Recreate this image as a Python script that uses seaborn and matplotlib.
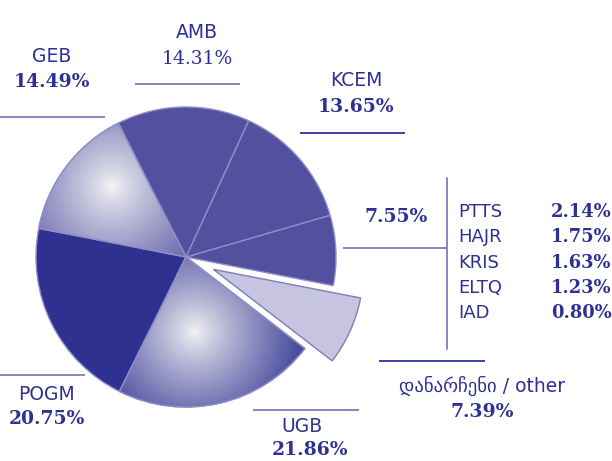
import numpy as np
import matplotlib.pyplot as plt
import seaborn as sns
from matplotlib.colors import to_rgb
from matplotlib.patches import Wedge

# slice data (counter-clockwise from the right)
slice_names = ["group", "KCEM", "AMB", "GEB", "POGM", "UGB", "other"]
slice_shares = [7.55, 13.65, 14.31, 14.49, 20.75, 21.86, 7.39]
slice_colors = ["#52509F", "#52509F", "#52509F", "#5C5AA8", "#2E3190", "#2E3190", "#C6C4E1"]
explode = [0, 0, 0, 0, 0, 0, 0.2]

# breakdown of the 7.55% group
small_names = ["PTTS", "HAJR", "KRIS", "ELTQ", "IAD"]
small_shares = [2.14, 1.75, 1.63, 1.23, 0.80]

other_label = "დანარჩენი / other"

sns.set_theme(style="white")
plt.rcParams['font.family'] = ['DejaVu Sans']

navy = "#2E3192"
line_col = "#7E7DBA"
W, H = 612, 461

fig = plt.figure(figsize=(6.12, 4.61), dpi=100)
ax = fig.add_axes([0, 0, 1, 1])

cx, cy, r = 186, H - 257, 150
wedges, _ = ax.pie(slice_shares, colors=slice_colors, explode=[e * r for e in explode],
                   startangle=-11, center=(cx, cy), radius=r, frame=True,
                   wedgeprops=dict(edgecolor="#8F8EC6", linewidth=1))
wedges[-1].set_edgecolor("#7F7DB8")
ax.set_xlim(0, W)
ax.set_ylim(0, H)
ax.axis("off")

# radial highlight on GEB and UGB
xx, yy = np.meshgrid(np.arange(W) + 0.5, np.arange(H) + 0.5)
def shade(wedge, hx, hy, spread, base):
    d = np.sqrt((xx - hx) ** 2 + (yy - hy) ** 2) / spread
    t = np.clip(d, 0, 1) ** 0.85
    img = np.ones((H, W, 3))
    b = np.array(to_rgb(base))
    for k in range(3):
        img[..., k] = (1 - t) * 0.96 + t * b[k]
    im = ax.imshow(img, extent=(0, W, 0, H), origin="lower", zorder=wedge.get_zorder() + 0.1)
    im.set_clip_path(wedge)
    e = Wedge(wedge.center, wedge.r, wedge.theta1, wedge.theta2,
              facecolor="none", edgecolor="#8F8EC6", linewidth=1,
              zorder=wedge.get_zorder() + 0.2)
    ax.add_patch(e)

shade(wedges[3], 112, H - 187, 120, "#5654A3")
shade(wedges[5], 195, H - 332, 125, "#2E3190")
ax.set_xlim(0, W)
ax.set_ylim(0, H)

def hline(x0, x1, y, col=line_col):
    ax.plot([x0, x1], [H - y, H - y], color=col, lw=1.3, solid_capstyle="butt")

def txt(x, y, s, serif=False, bold=False, ha="center", size=13.5):
    fam = ["DejaVu Serif"] if serif else ["DejaVu Sans"]
    ax.text(x, H - y, s, ha=ha, va="center", color=navy, fontsize=size,
            family=fam, fontweight="bold" if bold else "normal")

pct = dict(zip(slice_names, slice_shares))

# GEB
txt(52, 57, "GEB")
txt(52, 82, f"{pct['GEB']:.2f}%", serif=True, bold=True)
hline(0, 105, 117)
# AMB
txt(197, 33, "AMB")
txt(197, 59, f"{pct['AMB']:.2f}%", serif=True)
hline(135, 240, 84)
# KCEM
txt(356, 81, "KCEM")
txt(356, 107, f"{pct['KCEM']:.2f}%", serif=True, bold=True)
hline(300, 405, 133, navy)
# group
txt(396, 217, f"{pct['group']:.2f}%", serif=True, bold=True)
hline(343, 447, 248)
ax.plot([447, 447], [H - 178, H - 349], color=line_col, lw=1.3)
for i, (n, v) in enumerate(zip(small_names, small_shares)):
    y = 212 + i * 25.3
    txt(458, y, n, ha="left", size=13)
    txt(551, y, f"{v:.2f}%", serif=True, bold=True, ha="left", size=12.9)
# other
hline(379, 485, 361, navy)
txt(482, 386, other_label)
txt(482, 412, f"{pct['other']:.2f}%", serif=True, bold=True)
# UGB
hline(253, 359, 410)
txt(302, 427, "UGB")
txt(310, 450, f"{pct['UGB']:.2f}%", serif=True, bold=True)
# POGM
hline(0, 85, 375)
txt(46, 394, "POGM")
txt(47, 419, f"{pct['POGM']:.2f}%", serif=True, bold=True)

fig.savefig("out.png", dpi=100)
